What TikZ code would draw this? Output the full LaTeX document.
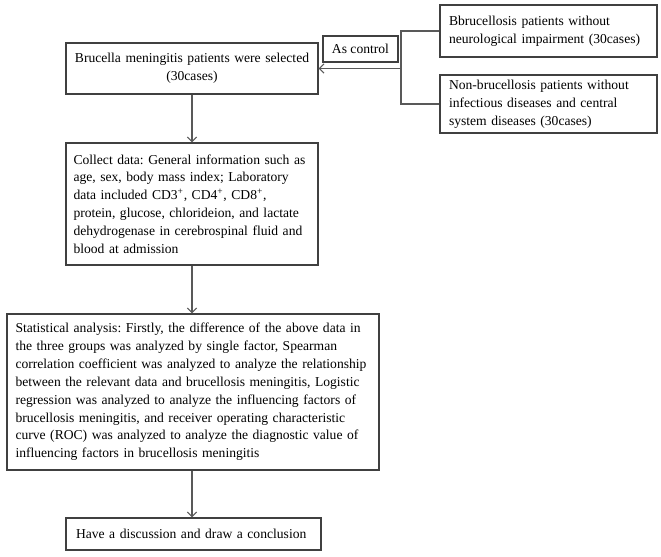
\documentclass[tikz,border=0pt]{standalone}
\usepackage{fontspec}
\setmainfont{Liberation Serif}
\usetikzlibrary{arrows.meta}
\frenchspacing
\newcommand\jfy[2]{\makebox[#1][s]{#2}}
\tikzset{
  box/.style={draw=black!75, line width=0.8pt, inner sep=0pt, fill=white,
    font=\fontsize{10.2}{13.4}\selectfont},
  conn/.style={draw=black!65, line width=0.8pt},
  arr/.style={conn, -{Straight Barb[length=3.5pt,width=7pt]}}
}
\begin{document}
\begin{tikzpicture}[x=0.75pt,y=-0.75pt]
\fill[white] (0,0) rectangle (661,557);
\useasboundingbox (0,0) rectangle (661,557);

\node[box, minimum width=189pt, minimum height=38.25pt, text width=180pt, align=center]
  (sel) at (192,68.5) {Brucella meningitis patients were selected\\(30cases)};

\node[box, minimum width=56.25pt, minimum height=19.5pt, align=center]
  (ctrl) at (360.5,49) {As control};

\node[box, minimum width=162.75pt, minimum height=39pt, text width=149.25pt, align=left]
  (tr1) at (548.5,31) {Bbrucellosis patients without\\neurological impairment (30cases)};

\node[box, minimum width=162.75pt, minimum height=43.5pt, text width=149.25pt, align=left]
  (tr2) at (548.5,104) {Non-brucellosis patients without\\infectious diseases and central\\system diseases (30cases)};

\node[box, minimum width=189pt, minimum height=91.5pt, text width=177.75pt, align=left]
  (col) at (192,204) {%
  \jfy{177.75pt}{Collect data: General information such as}\\
  \jfy{177.75pt}{age, sex, body mass index; Laboratory}\\
  data included CD3\textsuperscript{+}, CD4\textsuperscript{+}, CD8\textsuperscript{+},\\
  protein, glucose, chlorideion, and lactate\\
  \jfy{177.75pt}{dehydrogenase in cerebrospinal fluid and}\\
  blood at admission};

\node[box, minimum width=279pt, minimum height=117pt, text width=266.25pt, align=left]
  (stat) at (193,392) {%
  \jfy{266.25pt}{Statistical analysis: Firstly, the difference of the above data in}\\
  \jfy{266.25pt}{the three groups was analyzed by single factor, Spearman}\\
  \jfy{266.25pt}{correlation coefficient was analyzed to analyze the relationship}\\
  \jfy{266.25pt}{between the relevant data and brucellosis meningitis, Logistic}\\
  \jfy{266.25pt}{regression was analyzed to analyze the influencing factors of}\\
  \jfy{266.25pt}{brucellosis meningitis, and receiver operating characteristic}\\
  \jfy{266.25pt}{curve (ROC) was analyzed to analyze the diagnostic value of}\\
  influencing factors in brucellosis meningitis};

\node[box, minimum width=191.25pt, minimum height=24pt, text width=176.25pt, align=left]
  (conc) at (193.5,534) {Have a discussion and draw a conclusion};

\coordinate (br) at (401,68.5);
\draw[conn] (tr1.west) -- (tr1.west -| br) -- (tr2.west -| br) -- (tr2.west);
\draw[arr] (br) -- (sel.east);
\draw[arr] (sel.south) -- (col.north);
\draw[arr] (col.south) -- (stat.north -| col.south);
\draw[arr] (stat.south -| col.south) -- (conc.north -| col.south);
\end{tikzpicture}
\end{document}
